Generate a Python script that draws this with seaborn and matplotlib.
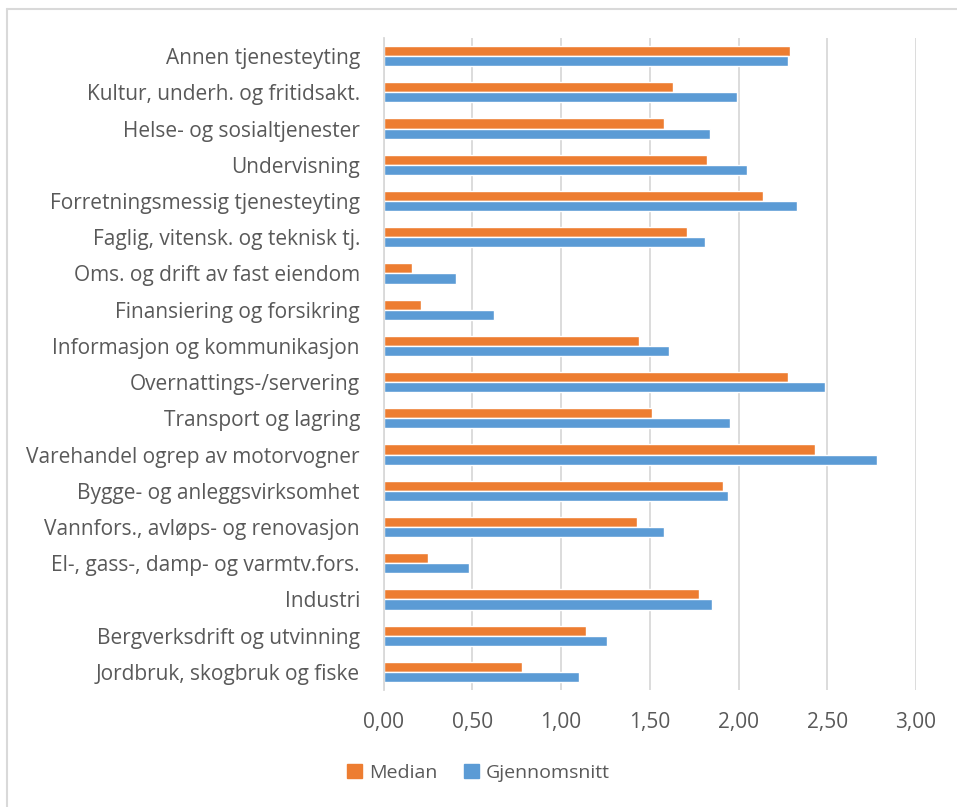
import matplotlib
matplotlib.use("Agg")
import matplotlib.pyplot as plt
import seaborn as sns
import pandas as pd

categories = [
    "Annen tjenesteyting",
    "Kultur, underh. og fritidsakt.",
    "Helse- og sosialtjenester",
    "Undervisning",
    "Forretningsmessig tjenesteyting",
    "Faglig, vitensk. og teknisk tj.",
    "Oms. og drift av fast eiendom",
    "Finansiering og forsikring",
    "Informasjon og kommunikasjon",
    "Overnattings-/servering",
    "Transport og lagring",
    "Varehandel ogrep av motorvogner",
    "Bygge- og anleggsvirksomhet",
    "Vannfors., avløps- og renovasjon",
    "El-, gass-, damp- og varmtv.fors.",
    "Industri",
    "Bergverksdrift og utvinning",
    "Jordbruk, skogbruk og fiske",
]
median = [2.29, 1.63, 1.58, 1.82, 2.14, 1.71, 0.16, 0.21, 1.44,
          2.28, 1.51, 2.43, 1.91, 1.43, 0.25, 1.78, 1.14, 0.78]
gjennomsnitt = [2.28, 1.99, 1.84, 2.05, 2.33, 1.81, 0.41, 0.62, 1.61,
                2.49, 1.95, 2.78, 1.94, 1.58, 0.48, 1.85, 1.26, 1.10]
series_names = ["Median", "Gjennomsnitt"]
x_ticks = [0.0, 0.5, 1.0, 1.5, 2.0, 2.5, 3.0]

df = pd.DataFrame({
    "Næring": categories * 2,
    "Verdi": median + gjennomsnitt,
    "Serie": [series_names[0]] * len(categories) + [series_names[1]] * len(categories),
})

sns.set_theme(style="white")
plt.rcParams["font.family"] = ["Open Sans", "DejaVu Sans"]

TEXT = "#595959"
GRID = "#D9D9D9"
palette = {"Median": "#ED7D31", "Gjennomsnitt": "#5B9BD5"}

fig = plt.figure(figsize=(9.57, 8.07), dpi=100)
ax = fig.add_axes([383.5 / 957, 1 - 690 / 807, (916 - 383.5) / 957, (690 - 38) / 807])

sns.barplot(data=df, y="Næring", x="Verdi", hue="Serie", order=categories,
            hue_order=series_names, palette=palette, orient="h", width=0.56,
            saturation=1, legend=False, ax=ax)

ax.set_xlim(0, 3)
ax.set_ylim(len(categories) - 0.5, -0.5)
ax.set_xticks(x_ticks)
ax.set_xticklabels([f"{v:.2f}".replace(".", ",") for v in x_ticks])
ax.set_xlabel("")
ax.set_ylabel("")
ax.xaxis.grid(True, color=GRID, linewidth=1.3)
ax.set_axisbelow(True)
for side in ("top", "right", "bottom"):
    ax.spines[side].set_visible(False)
ax.spines["left"].set_color(GRID)
ax.spines["left"].set_linewidth(1.3)
ax.tick_params(axis="x", length=0, pad=16, labelsize=15, labelcolor=TEXT)
ax.tick_params(axis="y", length=0, pad=17, labelsize=15, labelcolor=TEXT)

handles = [plt.Rectangle((0, 0), 1, 1, color=palette[s]) for s in series_names]
fig.legend(handles, series_names, loc="center", bbox_to_anchor=(0.5, 1 - 773 / 807),
           ncol=2, frameon=False, fontsize=14, labelcolor=TEXT,
           handlelength=0.75, handleheight=0.75, handletextpad=0.35, columnspacing=1.4)

# chart area frame
fig.add_artist(plt.Line2D([6.5 / 957, 6.5 / 957], [0, 1 - 8.5 / 807],
                          color=GRID, linewidth=1.5, transform=fig.transFigure))
fig.add_artist(plt.Line2D([6.5 / 957, 1], [1 - 8.5 / 807, 1 - 8.5 / 807],
                          color=GRID, linewidth=1.5, transform=fig.transFigure))

fig.savefig("out.png", dpi=100, facecolor="white")
